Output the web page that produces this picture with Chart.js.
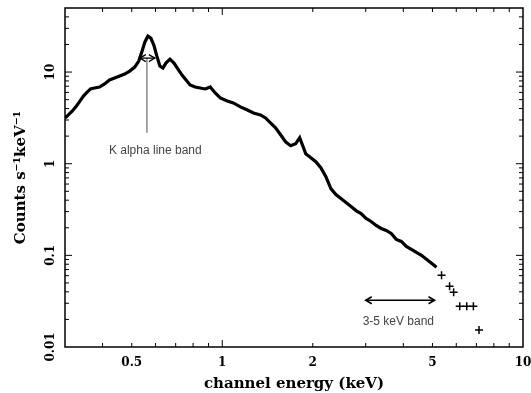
<!DOCTYPE html>
<html><head><meta charset="utf-8">
<script src="https://cdn.jsdelivr.net/npm/chart.js@4"></script>
<style>html,body{margin:0;padding:0;background:#fff}</style>
</head><body>
<canvas id="c" width="531" height="393" style="width:531px;height:393px;display:block"></canvas>
<script>
// Spectrum (keV, counts s^-1 keV^-1)
const energy = [0.3008,0.3101,0.3175,0.3274,0.3350,0.3455,0.3535,0.3646,0.3761,0.3908,0.4062,0.4220,0.4386,0.4559,0.4737,0.4923,0.5117,0.5277,0.5401,0.5527,0.5657,0.5788,0.5923,0.6061,0.6203,0.6348,0.6496,0.6700,0.6911,0.7125,0.7349,0.7580,0.7818,0.8124,0.8442,0.8773,0.9118,0.9475,0.9847,1.039,1.088,1.149,1.212,1.270,1.340,1.393,1.447,1.504,1.563,1.624,1.688,1.754,1.809,1.852,1.895,1.970,2.047,2.127,2.211,2.297,2.387,2.481,2.579,2.680,2.785,2.894,3.008,3.126,3.249,3.376,3.509,3.646,3.789,3.938,4.093,4.255,4.421,4.595,4.775,4.964,5.158];
const counts = [3.16,3.50,3.77,4.27,4.72,5.48,5.91,6.54,6.70,6.87,7.41,8.19,8.61,9.05,9.51,10.25,11.33,13.17,16.50,21.19,24.62,23.42,19.66,14.92,11.62,11.05,12.52,13.84,12.52,10.78,9.28,8.19,7.22,6.87,6.70,6.54,6.87,5.91,5.22,4.84,4.60,4.17,3.86,3.58,3.41,3.16,2.79,2.46,2.07,1.73,1.57,1.65,1.92,1.57,1.285,1.162,1.051,0.905,0.722,0.535,0.460,0.417,0.377,0.341,0.308,0.286,0.2524,0.2343,0.2119,0.1966,0.1870,0.1734,0.1493,0.1420,0.1253,0.1162,0.1078,0.100,0.0905,0.0818,0.0741];
// Sparse high-energy bins drawn as crosses
const sparseEnergy = [5.36,5.70,5.88,6.16,6.50,6.84,7.14];
const sparseCounts = [0.0606,0.0460,0.0395,0.0279,0.0279,0.0279,0.0153];
// Tick labels
const xTickLabels = [0.5,1,2,5,10];
const yTickLabels = [0.01,0.1,1,10];
const xMinorTicks = [0.4,0.5,0.6,0.7,0.8,0.9,2,3,4,5,6,7,8,9];
const xMajorTicks = [1];
const yMinorTicks = [0.02,0.03,0.04,0.05,0.06,0.07,0.08,0.09,0.2,0.3,0.4,0.5,0.6,0.7,0.8,0.9,2,3,4,5,6,7,8,9,20,30,40];
const yMajorTicks = [0.1,1,10];
// Annotations
const kAlphaBand = [0.532,0.597]; const kAlphaLevel = 14.2; const kAlphaLineX = 0.5617; const kAlphaLineBottom = 2.17;
const kAlphaLabel = {text:'K alpha line band', x:0.599, y:1.384};
const hardBand = [3,5.08]; const hardLevel = 0.0324;
const hardLabel = {text:'3-5 keV band', x:3.85, y:0.0187};

const serifBold = {family:'"DejaVu Serif", serif', weight:'bold'};

function arrowHead(ctx, x, y, dir){
  ctx.beginPath();
  ctx.moveTo(x - dir*6, y - 3.5);
  ctx.lineTo(x, y);
  ctx.lineTo(x - dir*6, y + 3.5);
  ctx.stroke();
}

const framePlugin = {
  id:'frame',
  afterDraw(chart){
    const {ctx, chartArea:a, scales:{x, y}} = chart;
    ctx.save();
    ctx.strokeStyle = '#000';
    ctx.lineWidth = 1.5;
    ctx.strokeRect(a.left, a.top, a.right - a.left, a.bottom - a.top);
    ctx.lineWidth = 1;
    const tx = (v, len) => { const p = x.getPixelForValue(v);
      ctx.beginPath(); ctx.moveTo(p, a.bottom); ctx.lineTo(p, a.bottom - len);
      ctx.moveTo(p, a.top); ctx.lineTo(p, a.top + len); ctx.stroke(); };
    const ty = (v, len) => { const p = y.getPixelForValue(v);
      ctx.beginPath(); ctx.moveTo(a.left, p); ctx.lineTo(a.left + len, p);
      ctx.moveTo(a.right, p); ctx.lineTo(a.right - len, p); ctx.stroke(); };
    xMinorTicks.forEach(v => tx(v, 4));
    xMajorTicks.forEach(v => tx(v, 7));
    yMinorTicks.forEach(v => ty(v, 4));
    yMajorTicks.forEach(v => ty(v, 7));
    // K alpha annotation
    ctx.strokeStyle = '#888'; ctx.lineWidth = 1.5;
    const kx = x.getPixelForValue(kAlphaLineX);
    ctx.beginPath(); ctx.moveTo(kx, y.getPixelForValue(kAlphaLevel)); ctx.lineTo(kx, y.getPixelForValue(kAlphaLineBottom)); ctx.stroke();
    ctx.strokeStyle = '#000'; ctx.lineWidth = 1.3;
    let x0 = x.getPixelForValue(kAlphaBand[0]), x1 = x.getPixelForValue(kAlphaBand[1]), yy = y.getPixelForValue(kAlphaLevel);
    ctx.beginPath(); ctx.moveTo(x0, yy); ctx.lineTo(x1, yy); ctx.stroke();
    arrowHead(ctx, x0, yy, -1); arrowHead(ctx, x1, yy, 1);
    // 3-5 keV band
    ctx.lineWidth = 1.6;
    x0 = x.getPixelForValue(hardBand[0]); x1 = x.getPixelForValue(hardBand[1]); yy = y.getPixelForValue(hardLevel);
    ctx.beginPath(); ctx.moveTo(x0, yy); ctx.lineTo(x1, yy); ctx.stroke();
    arrowHead(ctx, x0, yy, -1); arrowHead(ctx, x1, yy, 1);
    // labels
    ctx.fillStyle = '#444';
    ctx.font = '12px "Liberation Sans", Arial, sans-serif';
    ctx.textAlign = 'center'; ctx.textBaseline = 'middle';
    [kAlphaLabel, hardLabel].forEach(l => ctx.fillText(l.text, x.getPixelForValue(l.x), y.getPixelForValue(l.y)));
    ctx.restore();
  }
};

new Chart(document.getElementById('c'), {
  type:'scatter',
  data:{
    datasets:[
      {data: energy.map((e,i)=>({x:e, y:counts[i]})), showLine:true, borderColor:'#000', borderWidth:3.2, pointRadius:0, tension:0},
      {data: sparseEnergy.map((e,i)=>({x:e, y:sparseCounts[i]})), showLine:false, pointStyle:'cross', pointRadius:4, borderColor:'#000', borderWidth:1.5, backgroundColor:'#000'}
    ]
  },
  options:{
    responsive:false, animation:false,
    layout:{padding:{left:0, right:0, top:8, bottom:0}},
    plugins:{legend:{display:false}, tooltip:{enabled:false}},
    scales:{
      x:{type:'logarithmic', min:0.3, max:10,
        afterBuildTicks: s => { s.ticks = xTickLabels.map(v => ({value:v})); },
        afterFit: s => { s.height = 46; s.paddingRight = 8; s.paddingLeft = 0; },
        grid:{display:false, drawTicks:false}, border:{display:false},
        ticks:{autoSkip:false, maxRotation:0, color:'#000', padding:9, font:{...serifBold, size:12},
          callback: v => String(v)},
        title:{display:true, text:'channel energy (keV)', color:'#000', font:{...serifBold, size:15}, padding:{top:2, bottom:0}}
      },
      y:{type:'logarithmic', min:0.01, max:50,
        afterBuildTicks: s => { s.ticks = yTickLabels.map(v => ({value:v})); },
        afterFit: s => { s.width = 65; s.paddingTop = 0; s.paddingBottom = 0; },
        grid:{display:false, drawTicks:false}, border:{display:false},
        ticks:{autoSkip:false, minRotation:90, maxRotation:90, crossAlign:'center', padding:0, color:'#000', font:{...serifBold, size:12},
          callback: v => String(v)},
        title:{display:true, text:'Counts s\u207B\u00B9keV\u207B\u00B9', color:'#000', font:{...serifBold, size:15}, padding:{top:12, bottom:0}}
      }
    }
  },
  plugins:[framePlugin]
});
</script>
</body></html>
